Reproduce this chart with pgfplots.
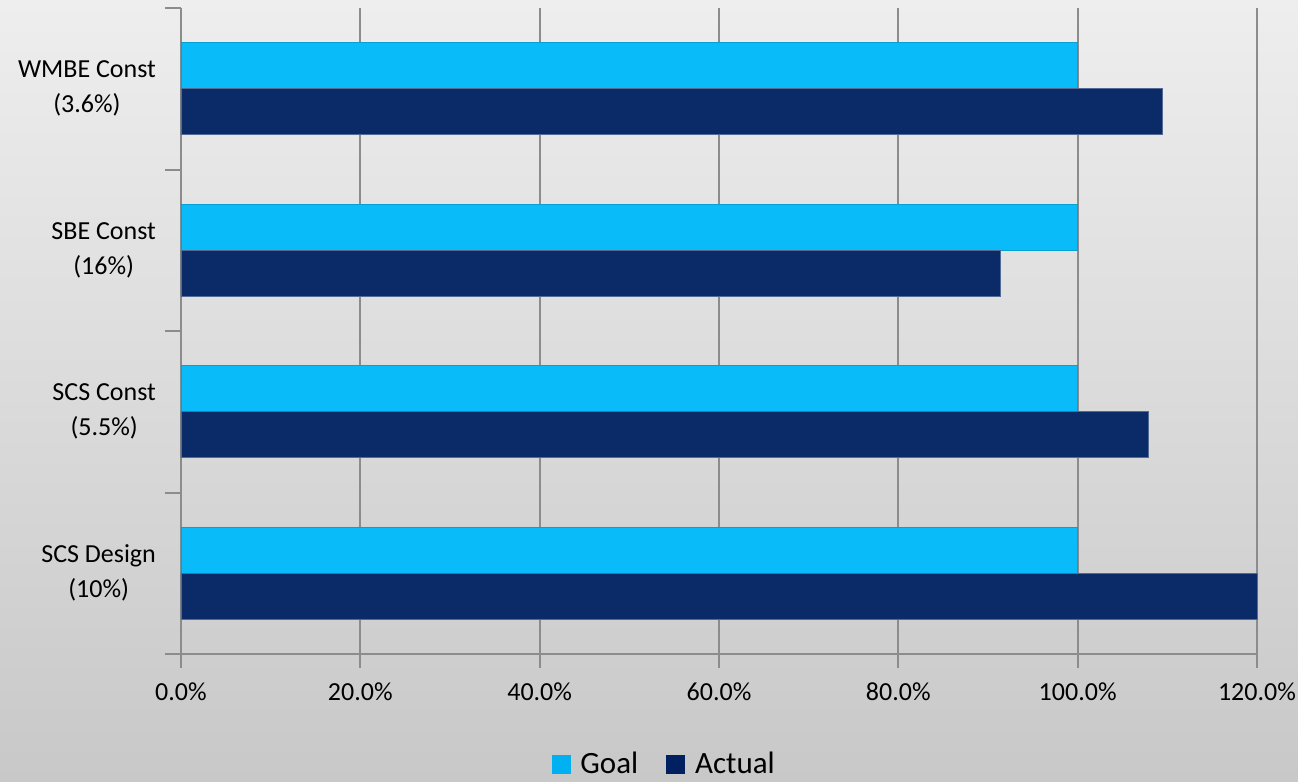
\documentclass[border=0pt]{standalone}
\usepackage{fontspec}
\setmainfont{Carlito}
\usepackage{pgfplots}
\pgfplotsset{compat=1.18}

\definecolor{goalc}{RGB}{10,187,250}
\definecolor{goalleg}{RGB}{0,176,240}
\definecolor{actc}{RGB}{10,42,104}
\definecolor{actleg}{RGB}{0,32,96}
\definecolor{gridc}{RGB}{140,140,140}

\begin{document}
\begin{tikzpicture}
% page background, 1px = 0.5pt
\shade[top color={rgb,255:red,238;green,238;blue,238}, bottom color={rgb,255:red,200;green,200;blue,200}]
  (-90.5pt,-64pt) rectangle (558.5pt,327pt);
\useasboundingbox (-90.5pt,-64pt) rectangle (558.5pt,327pt);
\begin{axis}[
    at={(0,0)}, anchor=south west,
    scale only axis,
    width=538pt, height=323pt,
    xbar, bar width=23pt,
    xmin=0, xmax=120,
    ymin=-0.5, ymax=3.5,
    axis x line*=bottom,
    axis y line*=left,
    axis line style={gridc, line width=1pt},
    xtick={0,20,40,60,80,100,120},
    xticklabels={0.0\%,20.0\%,40.0\%,60.0\%,80.0\%,100.0\%,120.0\%},
    xmajorgrids,
    grid style={gridc, line width=1pt},
    ytick={0,1,2,3},
    yticklabels={{SCS Design\\(10\%)},{SCS Const\\(5.5\%)},{SBE Const\\(16\%)},{WMBE Const\\(3.6\%)}},
    y tick label style={align=center, font=\fontsize{13}{17.5}\selectfont},
    x tick label style={font=\fontsize{13}{16}\selectfont, yshift=-4pt},
    major y tick style={draw=none},
    minor ytick={-0.5,0.5,1.5,2.5,3.5},
    minor tick length=8pt,
    major tick length=7pt,
    tick align=outside,
    tick style={gridc, line width=1pt},
    yticklabel style={xshift=-2pt},
    legend style={at={(rel axis cs:0.45,0)}, anchor=center, yshift=-55pt,
        draw=none, fill=none, legend columns=2,
        font=\fontsize{15.5}{18}\selectfont,
        /tikz/every even column/.append style={column sep=12pt}},
    clip=false,
]
\addplot[fill=goalc, draw=goalc!85!black, line width=0.4pt, bar shift=11.5pt,
    legend image code/.code={\fill[goalleg] (0pt,-4.5pt) rectangle (9pt,4.5pt); \path (12pt,0pt);}]
    coordinates {(100,0) (100,1) (100,2) (100,3)};
\addplot[fill=actc, draw=actc!70!white, line width=0.4pt, bar shift=-11.5pt,
    legend image code/.code={\fill[actleg] (0pt,-4.5pt) rectangle (9pt,4.5pt); \path (12pt,0pt);}]
    coordinates {(120,0) (107.9,1) (91.4,2) (109.5,3)};
\legend{Goal, Actual}
\end{axis}
\end{tikzpicture}
\end{document}
